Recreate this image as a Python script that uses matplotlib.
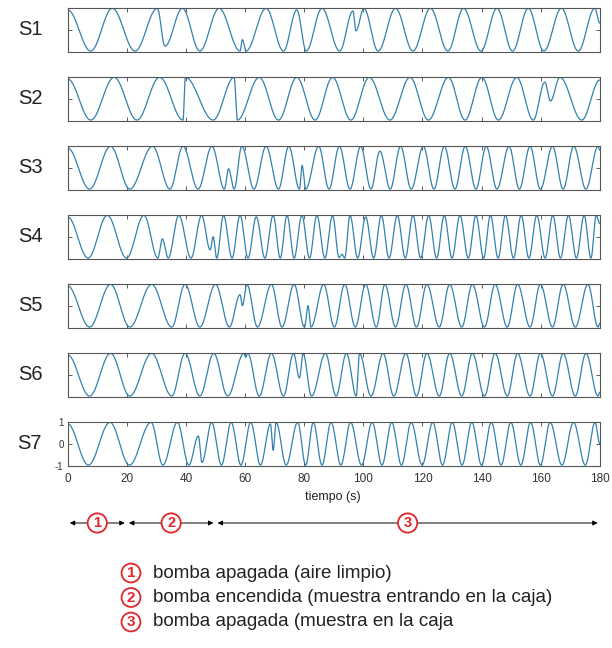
import numpy as np
import matplotlib
matplotlib.use("Agg")
import matplotlib.pyplot as plt

plt.rcParams['font.family'] = ['Liberation Sans', 'DejaVu Sans']

# ---- data: extrema (time s, normalised value) ----
S1_t = [0, 7.8, 15.1, 22.8, 30.3, 32.9, 38.8, 44.7, 51.2, 58.3, 59.1, 60.3, 67.1, 73.0, 77.5, 80.7,
        86.0, 92.0, 96.5, 97.5, 100.2, 105.0, 110.9, 116.8, 122.7, 128.6, 133.9, 139.8, 145.2, 150.5,
        155.8, 161.1, 167.0, 172.7, 178.3, 180]
S1_v = [0.9, -0.97, 0.97, -0.97, 0.97, -0.75, 0.97, -0.97, 0.97, -0.97, -0.45, -0.97, 0.97, -0.97, 0.9, -0.97,
        0.97, -0.97, 0.85, -0.05, 0.97, -0.97, 0.97, -0.97, 0.97, -0.97, 0.97, -0.97, 0.97, -0.97,
        0.97, -0.97, 0.97, -0.97, 0.97, 0.3]

S2_t = [0, 7.8, 15.7, 23.4, 31.1, 39.0, 39.8, 49.2, 56.3, 57.4, 64.8, 71.3, 77.5, 83.7, 89.6, 95.8,
        102.0, 109.0, 115.8, 122.0, 128.8, 134.4, 140.1, 145.7, 151.9, 157.5, 161.4, 163.3, 166.5, 173.9, 180]
S2_v = [0.9, -0.97, 0.97, -0.97, 0.97, -0.97, 0.97, -0.97, 0.97, -0.97, 0.97, -0.97, 0.97, -0.97, 0.97, -0.97,
        0.97, -0.97, 0.97, -0.97, 0.97, -0.97, 0.97, -0.97, 0.97, -0.97, 0.75, -0.1, 0.97, -0.97, 0.85]

S3_t = [0, 7.4, 14.5, 21.0, 28.7, 34.6, 39.0, 44.1, 48.8, 53.0, 54.4, 56.3, 58.9, 63.0, 67.1, 71.3, 74.8,
        78.4, 79.3, 80.5, 84.9, 88.4, 91.9, 95.5, 99.1, 102.6, 105.6, 109.1, 112.6, 116.2, 120.3, 123.9,
        127.4, 131.0, 134.5, 138.1, 141.6, 145.2, 149.3, 152.8, 156.4, 159.9, 164.0, 167.6, 171.2, 175.3,
        179.4, 180]
S3_v = [0.9, -0.97, 0.97, -0.97, 0.97, -0.97, 0.97, -0.97, 0.97, -0.97, -0.05, -0.97, 0.97, -0.97, 0.97, -0.97, 0.97,
        -0.97, 0.1, -0.97, 0.97, -0.97, 0.97, -0.97, 0.97, -0.97, 0.75, -0.97, 0.97, -0.97, 0.97, -0.97,
        0.97, -0.97, 0.97, -0.97, 0.97, -0.97, 0.97, -0.97, 0.97, -0.97, 0.97, -0.97, 0.97, -0.97,
        0.97, 0.8]

S4_t = [0, 6.9, 13.4, 19.9, 25.8, 30.5, 32.0, 34.0, 37.6, 41.7, 45.3, 48.2, 49.2, 50.4, 52.7, 55.6,
        58.3, 61.0, 63.8, 66.7, 69.5, 71.9, 74.2, 76.6, 79.2, 81.8, 84.3, 87.0, 89.6, 91.8, 92.8, 93.7,
        95.5, 98.1, 100.8, 103.5, 106.1, 108.7, 111.5, 114.2, 116.8, 119.4, 122.1, 124.8, 127.4, 130.0,
        132.7, 135.5, 138.1, 140.7, 143.0, 145.6, 148.1, 150.8, 153.4, 156.0, 158.7, 161.5, 164.1, 166.7,
        169.4, 172.1, 174.7, 177.0, 178.8, 180]
S4_v = [0.9, -0.97, 0.97, -0.97, 0.97, -0.97, -0.1, -0.97, 0.97, -0.97, 0.97, -0.6, 0.0, -0.97, 0.97, -0.97,
        0.97, -0.97, 0.9, -0.97, 0.97, -0.97, 0.97, -0.97, 0.97, -0.97, 0.97, -0.97, 0.97, -0.95, -0.8, -0.97,
        0.97, -0.97, 0.9, -0.97, 0.97, -0.97, 0.97, -0.97, 0.97, -0.97, 0.97, -0.97, 0.97, -0.97,
        0.97, -0.97, 0.97, -0.97, 0.97, -0.97, 0.97, -0.97, 0.97, -0.97, 0.97, -0.97, 0.97, -0.97,
        0.97, -0.97, 0.97, -0.97, 0.97, 0.6]

S5_t = [0, 7.4, 14.5, 21.0, 28.4, 35.2, 39.7, 44.7, 50.0, 54.7, 58.3, 59.1, 60.6, 64.2, 68.9, 72.5, 76.6,
        80.1, 81.3, 82.3, 86.6, 90.2, 93.7, 97.3, 100.8, 104.4, 107.3, 110.9, 114.4, 118.0, 121.5, 125.7,
        129.2, 133.3, 136.9, 141.0, 144.6, 148.7, 152.2, 156.4, 159.9, 164.0, 167.6, 171.7, 176.0, 179.4, 180]
S5_v = [0.9, -0.97, 0.97, -0.97, 0.97, -0.97, 0.97, -0.97, 0.97, -0.97, 0.5, 0.0, 0.97, -0.97, 0.97, -0.97, 0.97,
        -0.97, 0.0, -0.97, 0.97, -0.97, 0.97, -0.97, 0.97, -0.97, 0.97, -0.97, 0.97, -0.97, 0.97, -0.97,
        0.97, -0.97, 0.97, -0.97, 0.97, -0.97, 0.97, -0.97, 0.97, -0.97, 0.97, -0.97, 0.97, -0.97, -0.8]

S6_t = [0, 7.4, 14.5, 21.0, 28.4, 35.2, 39.7, 44.7, 49.4, 54.1, 59.6, 60.2, 60.9, 64.8, 68.9, 73.0, 76.4,
        78.4, 79.6, 82.5, 87.2, 90.8, 94.3, 97.6, 98.7, 102.6, 106.7, 110.3, 114.4, 118.0, 121.5, 125.7,
        129.2, 133.3, 136.9, 141.0, 144.6, 148.7, 152.2, 156.4, 159.9, 164.0, 167.6, 171.7, 175.3, 179.4, 180]
S6_v = [0.9, -0.97, 0.97, -0.97, 0.97, -0.97, 0.97, -0.97, 0.97, -0.97, 0.97, 0.8, 0.97, -0.97, 0.97, -0.97, 0.97,
        -0.15, 0.97, -0.97, 0.97, -0.97, 0.97, -0.97, 0.97, -0.97, 0.97, -0.97, 0.97, -0.97, 0.97, -0.97,
        0.97, -0.97, 0.97, -0.97, 0.97, -0.97, 0.97, -0.97, 0.97, -0.97, 0.97, -0.97, 0.97, -0.97, -0.8]

S7_t = [0, 7.0, 14.3, 20.9, 28.2, 32.2, 37.1, 41.0, 44.2, 45.4, 48.7, 52.0, 55.3, 58.6, 61.9, 65.2,
        68.6, 69.5, 70.5, 73.9, 77.8, 80.5, 83.1, 86.0, 89.1, 92.4, 95.7, 99.4, 103.0, 106.3, 109.6, 112.9,
        116.2, 119.9, 123.5, 126.8, 130.1, 133.4, 136.7, 140.0, 143.3, 146.6, 149.9, 153.3, 156.6, 159.9,
        163.2, 167.2, 171.1, 175.1, 178.4, 180]
S7_v = [0.9, -0.97, 0.97, -0.97, 0.97, -0.97, 0.97, -0.97, 0.35, -0.85, 0.97, -0.97, 0.97, -0.97, 0.97, -0.97,
        0.9, -0.3, 0.97, -0.97, 0.97, -0.97, 0.97, -0.97, 0.97, -0.97, 0.97, -0.97, 0.97, -0.97, 0.97, -0.97,
        0.97, -0.97, 0.97, -0.97, 0.97, -0.97, 0.97, -0.97, 0.97, -0.97, 0.97, -0.97, 0.97, -0.97,
        0.97, -0.97, 0.97, -0.97, 0.97, 0.0]

series_names = ['S1', 'S2', 'S3', 'S4', 'S5', 'S6', 'S7']
series_t = [S1_t, S2_t, S3_t, S4_t, S5_t, S6_t, S7_t]
series_v = [S1_v, S2_v, S3_v, S4_v, S5_v, S6_v, S7_v]

x_ticks = [0, 20, 40, 60, 80, 100, 120, 140, 160, 180]
y_ticks = [-1, 0, 1]
x_label = 'tiempo (s)'

phase_bounds = [0, 20, 50, 180]
phase_labels = ['1', '2', '3']
phase_desc = ['bomba apagada (aire limpio)',
              'bomba encendida (muestra entrando en la caja)',
              'bomba apagada (muestra en la caja']


def wave(tk, vk, n=30):
    """Smooth half-cosine stroke between successive extrema."""
    tt, vv = [], []
    for i in range(len(tk) - 1):
        s = np.linspace(0, 1, n, endpoint=False)
        tt.append(tk[i] + (tk[i + 1] - tk[i]) * s)
        vv.append(vk[i] + (vk[i + 1] - vk[i]) * (1 - np.cos(np.pi * s)) / 2)
    tt.append([tk[-1]])
    vv.append([vk[-1]])
    return np.concatenate(tt), np.concatenate(vv)


W, H = 612, 648
fig = plt.figure(figsize=(W / 100, H / 100), dpi=100)

LINE = '#3282ad'
RED = '#e0262b'
left_px, right_px = 67.7, 599.8
panel_h = 44.0

for i, name in enumerate(series_names):
    top = 7.7 + 69.0 * i
    ax = fig.add_axes([left_px / W, 1 - (top + panel_h) / H, (right_px - left_px) / W, panel_h / H])
    t, v = wave(series_t[i], series_v[i])
    ax.plot(t, v, color=LINE, lw=0.9)
    ax.set_xlim(0, 180)
    ax.set_ylim(-1, 1)
    ax.set_xticks(x_ticks)
    ax.set_yticks(y_ticks)
    ax.tick_params(direction='in', top=True, right=True, length=3, width=0.6,
                   color='#444444', labelsize=8.5, labelcolor='#333333', pad=5)
    for sp in ax.spines.values():
        sp.set_color('#555555')
        sp.set_linewidth(0.8)
    if i < 6:
        ax.tick_params(labelbottom=False, labelleft=False)
        fig.text(30.5 / W, 1 - (top + panel_h / 2) / H, name, ha='center', va='center',
                 fontsize=14.5, color='#222222')
    else:
        ax.set_yticklabels(['-1', '0', '1'], fontsize=7)
        ax.tick_params(axis='y', pad=3)
        fig.text(42 / W, 1 - (top + panel_h / 2) / H, name, ha='right', va='center',
                 fontsize=14.5, color='#222222')

fig.text(333 / W, 1 - 497 / H, x_label, ha='center', va='center', fontsize=9, color='#222222')

# phase arrows in time coordinates
axb = fig.add_axes([left_px / W, 0, (right_px - left_px) / W, 1])
axb.set_xlim(0, 180)
axb.set_ylim(H, 0)
axb.axis('off')
yarr = 523
for k in range(3):
    a, b = phase_bounds[k], phase_bounds[k + 1]
    axb.annotate('', xy=(a, yarr), xytext=(b, yarr),
                 arrowprops=dict(arrowstyle='<|-|>', color='black', lw=0.7,
                                 shrinkA=1.5, shrinkB=1.5, mutation_scale=7))
    axb.text((a + b) / 2, yarr, phase_labels[k], ha='center', va='center', color=RED,
             fontsize=10.5, fontweight='bold',
             bbox=dict(boxstyle='circle,pad=0.18', fc='white', ec=RED, lw=1.3))

# legend lines
for k in range(3):
    y = 573 + 24.5 * k
    fig.text(131 / W, 1 - y / H, phase_labels[k], ha='center', va='center', color=RED,
             fontsize=11, fontweight='bold',
             bbox=dict(boxstyle='circle,pad=0.16', fc='white', ec=RED, lw=1.3))
    fig.text(153 / W, 1 - y / H, phase_desc[k], ha='left', va='center',
             fontsize=13.5, color='#222222')

fig.savefig('out.png', dpi=100)
